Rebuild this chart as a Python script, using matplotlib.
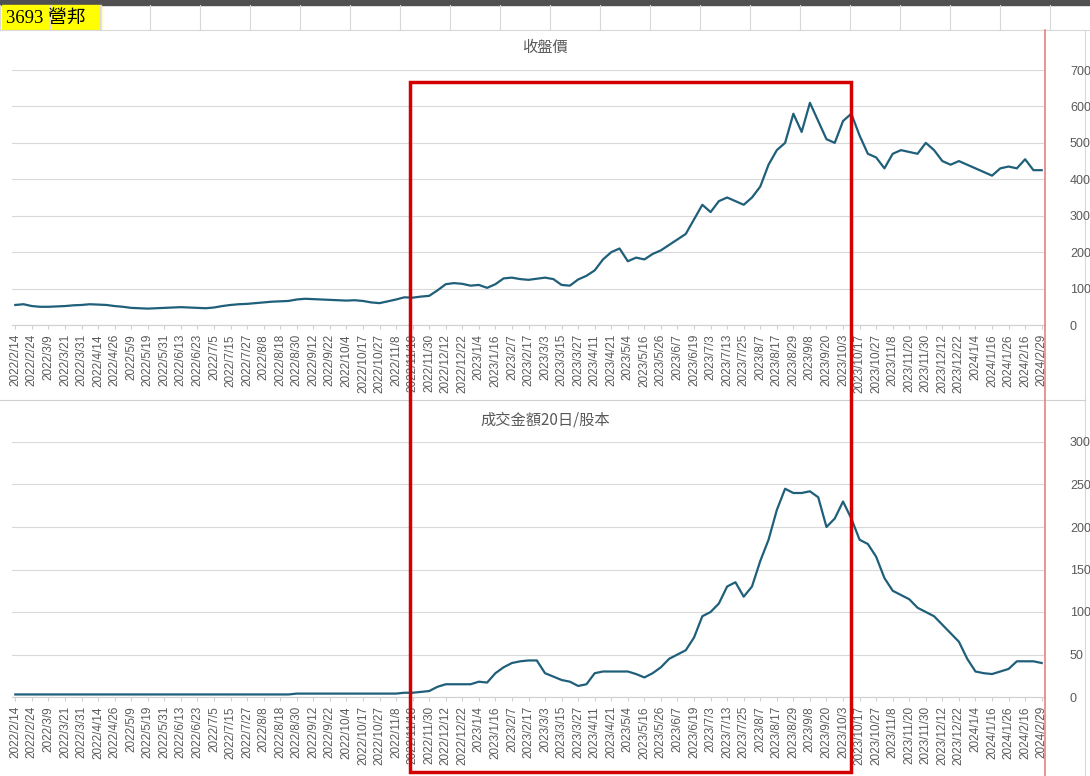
import numpy as np
import matplotlib.pyplot as plt
from matplotlib.patches import Rectangle

plt.rcParams['font.family'] = ['Liberation Sans', 'Noto Sans CJK TC', 'DejaVu Sans']

# tick labels (one every 8 trading days)
dates = ["2022/2/14", "2022/2/24", "2022/3/9", "2022/3/21", "2022/3/31", "2022/4/14", "2022/4/26",
         "2022/5/9", "2022/5/19", "2022/5/31", "2022/6/13", "2022/6/23", "2022/7/5", "2022/7/15",
         "2022/7/27", "2022/8/8", "2022/8/18", "2022/8/30", "2022/9/12", "2022/9/22", "2022/10/4",
         "2022/10/17", "2022/10/27", "2022/11/8", "2022/11/18", "2022/11/30", "2022/12/12",
         "2022/12/22", "2023/1/4", "2023/1/16", "2023/2/7", "2023/2/17", "2023/3/3", "2023/3/15",
         "2023/3/27", "2023/4/11", "2023/4/21", "2023/5/4", "2023/5/16", "2023/5/26", "2023/6/7",
         "2023/6/19", "2023/7/3", "2023/7/13", "2023/7/25", "2023/8/7", "2023/8/17", "2023/8/29",
         "2023/9/8", "2023/9/20", "2023/10/3", "2023/10/17", "2023/10/27", "2023/11/8",
         "2023/11/20", "2023/11/30", "2023/12/12", "2023/12/22", "2024/1/4", "2024/1/16",
         "2024/1/26", "2024/2/16", "2024/2/29"]

# closing price, two readings per tick interval
price = [55, 57, 52, 50, 50, 51, 52, 54, 55, 57, 56, 55, 52, 50, 47, 46, 45, 46, 47, 48,
         49, 48, 47, 46, 48, 52, 55, 57, 58, 60, 62, 64, 65, 66, 70, 72, 71, 70, 69, 68,
         67, 68, 66, 62, 60, 65, 70, 76, 75, 78, 80, 95, 112, 115, 113, 108, 110, 102, 112, 128,
         130, 126, 124, 127, 130, 126, 110, 108, 125, 135, 150, 180, 200, 210, 175, 185, 180, 195,
         205, 220, 235, 250, 290, 330, 310, 340, 350, 340, 330, 350, 380, 440, 480, 500, 580, 530,
         610, 560, 510, 500, 560, 580, 520, 470, 460, 430, 470, 480, 475, 470, 500, 480, 450, 440,
         450, 440, 430, 420, 410, 430, 435, 430, 455, 425, 425]

# 20-day turnover / capital
turnover = [3, 3, 3, 3, 3, 3, 3, 3, 3, 3, 3, 3, 3, 3, 3, 3, 3, 3, 3, 3,
            3, 3, 3, 3, 3, 3, 3, 3, 3, 3, 3, 3, 3, 3, 4, 4, 4, 4, 4, 4,
            4, 4, 4, 4, 4, 4, 4, 5, 5, 6, 7, 12, 15, 15, 15, 15, 18, 17, 28, 35,
            40, 42, 43, 43, 28, 24, 20, 18, 13, 15, 28, 30, 30, 30, 30, 27, 23, 28,
            35, 45, 50, 55, 70, 95, 100, 110, 130, 135, 118, 130, 160, 185, 220, 245, 240, 240,
            242, 235, 200, 210, 230, 210, 185, 180, 165, 140, 125, 120, 115, 105, 100, 95, 85, 75,
            65, 45, 30, 28, 27, 30, 33, 42, 42, 42, 40]

W, H = 1090, 776
fig = plt.figure(figsize=(W / 100, H / 100), dpi=100)
line_col = '#1f5f7a'

def px(x0, y0, x1, y1):
    return [x0 / W, 1 - y1 / H, (x1 - x0) / W, (y1 - y0) / H]

# spreadsheet background
bg = fig.add_axes([0, 0, 1, 1])
bg.set_xlim(0, W)
bg.set_ylim(H, 0)
bg.axis('off')
bg.add_patch(Rectangle((0, 0), W, 5, color='#505050'))
for cx in range(0, W, 50):
    bg.plot([cx, cx], [5, 30], color='#d8d8d8', lw=0.8)
bg.plot([0, W], [30, 30], color='#d8d8d8', lw=0.8)
bg.add_patch(Rectangle((2, 5), 99, 24, color='#ffff00'))
bg.text(6, 18, "3693 營邦", fontsize=13.5, va='center',
        family=['Liberation Serif', 'Noto Sans CJK TC'])
bg.plot([1085, 1085], [30, H], color='#d8d8d8', lw=0.8)
bg.plot([0, 1085], [400, 400], color='#d0d0d0', lw=0.8)
bg.text(545, 47, "收盤價", ha='center', va='center', fontsize=11, color='#595959',
        family=['Noto Sans CJK TC'])
bg.text(545, 420, "成交金額20日/股本", ha='center', va='center', fontsize=11, color='#595959',
        family=['Noto Sans CJK TC'])

n = len(dates)
x = np.arange(len(price)) * 0.5
tick_x = np.arange(n)

def panel(rect, vals, ymax, step):
    ax = fig.add_axes(rect)
    ax.plot(x, vals, color=line_col, lw=1.6)
    ax.set_xlim(-0.2, n - 0.8)
    ax.set_ylim(0, ymax)
    ax.set_yticks(np.arange(0, ymax + 1, step))
    ax.yaxis.tick_right()
    ax.tick_params(axis='y', length=0, pad=18, labelsize=9, labelcolor='#595959')
    ax.set_xticks(tick_x)
    ax.set_xticklabels(dates, rotation=90, fontsize=8.5, color='#595959')
    ax.tick_params(axis='x', length=3, color='#d0d0d0')
    ax.grid(axis='y', color='#d9d9d9', lw=0.8)
    for s in ['top', 'left', 'right']:
        ax.spines[s].set_visible(False)
    ax.spines['bottom'].set_color('#d0d0d0')
    ax.patch.set_alpha(0)
    return ax

panel(px(12, 70, 1045, 325), price, 700, 100)
panel(px(12, 442, 1045, 697), turnover, 300, 50)

# highlight box and marker line
ov = fig.add_axes([0, 0, 1, 1])
ov.set_xlim(0, W)
ov.set_ylim(H, 0)
ov.axis('off')
ov.add_patch(Rectangle((410, 82), 441, 690, fill=False, ec='#d40000', lw=2.5))
ov.plot([1045, 1045], [30, H], color='#e88080', lw=1.2)

fig.savefig('out.png', dpi=100)
